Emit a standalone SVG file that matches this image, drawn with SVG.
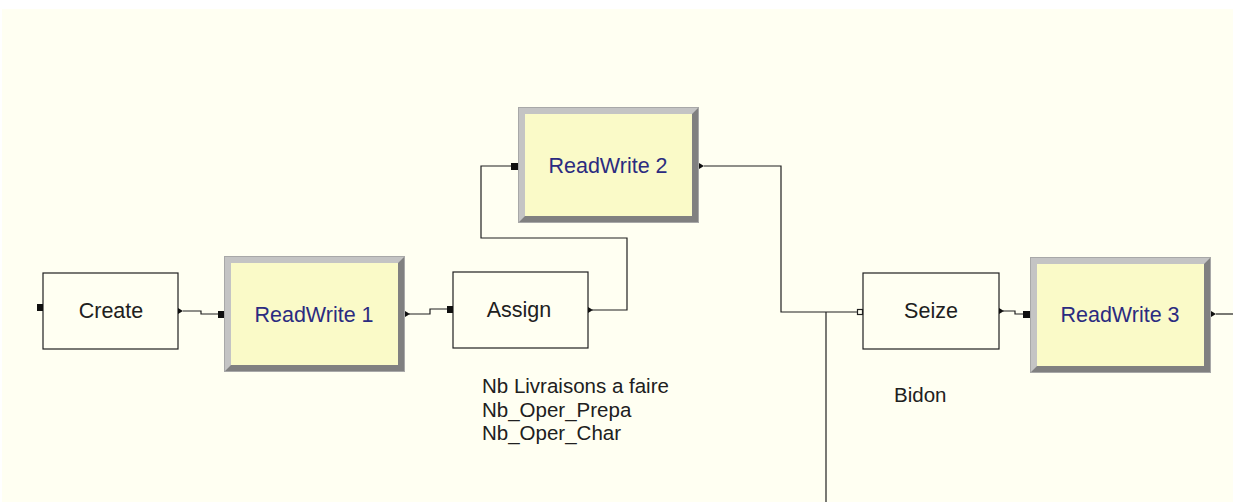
<svg xmlns="http://www.w3.org/2000/svg" width="1233" height="502" viewBox="0 0 1233 502">
<style>
.box{fill:#fffff2;stroke:#202020;stroke-width:1.2}
.lbl{font-family:"Liberation Sans",Arial,sans-serif;font-size:21.5px;fill:#202020;text-anchor:middle}
.rw{font-family:"Liberation Sans",Arial,sans-serif;font-size:21.5px;fill:#2b2b80;text-anchor:middle}
.note{font-family:"Liberation Sans",Arial,sans-serif;font-size:20.5px;fill:#202020}
.inner{fill:#fafac8}
.lt{fill:#c4c4c4}
.dk{fill:#808080}
.edge{fill:none;stroke:#a8a8a8;stroke-width:1}
.wire{fill:none;stroke:#202020;stroke-width:1.2}
.port{fill:#101010}
.hport{fill:#fffff2;stroke:#202020;stroke-width:1.2}
</style>
<defs>
<g id="bevel">
<rect x="0" y="0" width="181" height="116" class="dk"/>
<polygon points="0,0 181,0 174,7 7,7 7,109 0,116" class="lt"/>
<rect x="7" y="7" width="167" height="102" class="inner"/>
<rect x="0.5" y="0.5" width="180" height="115" class="edge"/>
</g>
<path id="outarrow" d="M0,-3 L5,0 L0,3 Z" fill="#101010"/>
</defs>
<rect x="0" y="0" width="1233" height="502" fill="#ffffff"/>
<rect x="2" y="9" width="1231" height="493" fill="#fffff2"/>

<g id="connectors">
<polyline class="wire" points="183,311 201,311 201,314 218,314"/>
<polyline class="wire" points="409,314 430,314 430,309 447,309"/>
<polyline class="wire" points="592,310 627,310 627,238 481,238 481,166 511,166"/>
<polyline class="wire" points="704,166 781,166 781,312 857,312"/>
<line class="wire" x1="826" y1="312" x2="826" y2="502"/>
<polyline class="wire" points="1003,311 1015,311 1015,314 1023,314"/>
<line class="wire" x1="1216" y1="314" x2="1233" y2="314"/>
</g>

<g id="create">
<rect class="box" x="43" y="273" width="135" height="76"/>
<rect class="port" x="37" y="304" width="6" height="7"/>
<use href="#outarrow" x="178" y="311"/>
<text class="lbl" x="111" y="318">Create</text>
</g>

<g id="readwrite1">
<use href="#bevel" x="224" y="256"/>
<rect class="port" x="218" y="311" width="6" height="7"/>
<use href="#outarrow" x="405" y="314"/>
<text class="rw" x="314" y="322">ReadWrite 1</text>
</g>

<g id="assign">
<rect class="box" x="453" y="272" width="135" height="76"/>
<rect class="port" x="447" y="306" width="6" height="7"/>
<use href="#outarrow" x="588" y="310"/>
<text class="lbl" x="519" y="317">Assign</text>
</g>

<g id="readwrite2">
<use href="#bevel" x="518" y="107"/>
<rect class="port" x="511" y="163" width="7" height="7"/>
<use href="#outarrow" x="699" y="166"/>
<text class="rw" x="608" y="173">ReadWrite 2</text>
</g>

<g id="seize">
<rect class="box" x="863" y="273" width="136" height="76"/>
<rect class="hport" x="857.5" y="309.5" width="5" height="5"/>
<use href="#outarrow" x="999" y="311"/>
<text class="lbl" x="931" y="318">Seize</text>
</g>

<g id="readwrite3">
<use href="#bevel" x="1030" y="257"/>
<rect class="port" x="1023" y="311" width="7" height="7"/>
<use href="#outarrow" x="1211" y="314"/>
<text class="rw" x="1120" y="322">ReadWrite 3</text>
</g>

<g id="assign-note">
<text class="note" x="482" y="393">Nb Livraisons a faire</text>
<text class="note" x="482" y="417">Nb_Oper_Prepa</text>
<text class="note" x="482" y="440">Nb_Oper_Char</text>
</g>

<g id="seize-note">
<text class="note" x="894" y="402">Bidon</text>
</g>
</svg>
